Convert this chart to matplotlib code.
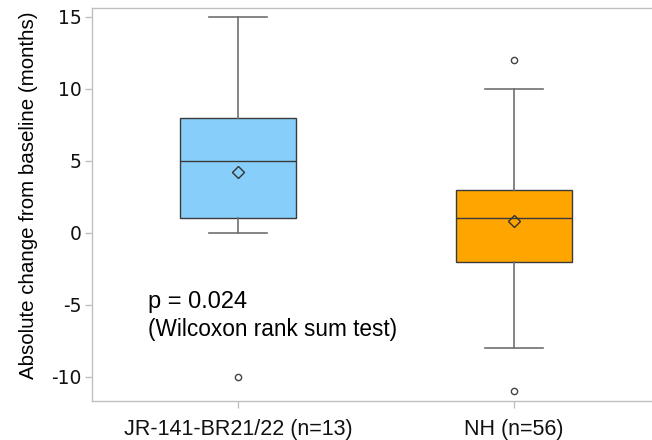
import matplotlib
matplotlib.use("Agg")
import matplotlib.pyplot as plt

# Summary values
groups = ["JR-141-BR21/22 (n=13)", "NH (n=56)"]
q1 = [1, -2]
medians = [5, 1]
q3 = [8, 3]
whisker_low = [0, -8]
whisker_high = [15, 10]
means = [4.2, 0.85]
outliers = [[-10], [12, -11]]
box_colors = ["#87CEFA", "#FFA500"]

yticks = [-10, -5, 0, 5, 10, 15]

stats = []
for i, name in enumerate(groups):
    stats.append({
        "label": name,
        "q1": q1[i], "med": medians[i], "q3": q3[i],
        "whislo": whisker_low[i], "whishi": whisker_high[i],
        "mean": means[i], "fliers": outliers[i],
    })

fig = plt.figure(figsize=(6.52, 4.40), dpi=100)
ax = fig.add_axes([0.141, 0.089, 0.859, 0.893])

bp = ax.bxp(stats, positions=[1, 2], widths=0.417, showmeans=True,
            patch_artist=True,
            boxprops=dict(edgecolor="#3a3a3a", linewidth=1.0),
            medianprops=dict(color="#3a3a3a", linewidth=1.0),
            whiskerprops=dict(color="#707070", linewidth=1.2),
            capprops=dict(color="#707070", linewidth=1.2),
            meanprops=dict(marker="D", markerfacecolor="none",
                           markeredgecolor="#333333", markersize=6,
                           markeredgewidth=1.0),
            flierprops=dict(marker="o", markerfacecolor="none",
                            markeredgecolor="#444444", markersize=4.5,
                            markeredgewidth=1.0))
for patch, c in zip(bp["boxes"], box_colors):
    patch.set_facecolor(c)

ax.set_xlim(0.471, 2.5)
ax.set_ylim(-11.67, 15.63)
ax.set_yticks(yticks)
ax.set_yticklabels([str(t) for t in yticks], fontfamily="DejaVu Sans",
                   fontsize=13.5)
ax.set_xticks([1, 2])
ax.set_xticklabels(groups, fontfamily="Liberation Sans", fontsize=15.5)

for side in ["left", "top", "bottom"]:
    ax.spines[side].set_color("#c0c0c0")
    ax.spines[side].set_linewidth(1.0)
ax.spines["right"].set_visible(False)
ax.tick_params(axis="both", color="#c0c0c0", length=5, width=1.0,
               labelcolor="#111111")
ax.tick_params(axis="y", pad=2.5)
ax.tick_params(axis="x", pad=8)

ax.set_ylabel("Absolute change from baseline (months)",
              fontfamily="Liberation Sans", fontsize=14.8)
ax.yaxis.set_label_coords(-0.096, 0.524)

ax.text(0.674, -4.77, "p = 0.024", fontfamily="Liberation Sans",
        fontsize=17, va="center", ha="left")
ax.text(0.674, -6.69, "(Wilcoxon rank sum test)", fontfamily="Liberation Sans",
        fontsize=16.3, va="center", ha="left")

fig.savefig("out.png", dpi=100)
